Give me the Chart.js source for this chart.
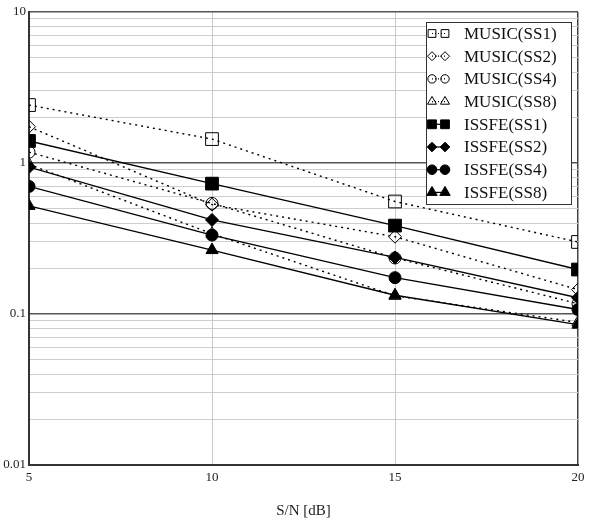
<!DOCTYPE html>
<html>
<head>
<meta charset="utf-8">
<script src="https://cdn.jsdelivr.net/npm/chart.js@4/dist/chart.umd.min.js"></script>
<style>
  html, body { margin: 0; padding: 0; background: #fff; }
  #wrap { width: 590px; height: 521px; position: relative; }
</style>
</head>
<body>
<div id="wrap"><canvas id="c" width="590" height="521"></canvas></div>
<script>
// ---- data ----
const snr = [5, 10, 15, 20];
const musicSS1 = [2.42, 1.44, 0.556, 0.30];
const musicSS2 = [1.74, 0.53, 0.325, 0.145];
const musicSS4 = [1.18, 0.54, 0.235, 0.117];
const musicSS8 = [0.98, 0.34, 0.132, 0.088];
const issfeSS1 = [1.40, 0.73, 0.385, 0.197];
const issfeSS2 = [0.94, 0.42, 0.237, 0.128];
const issfeSS4 = [0.70, 0.333, 0.174, 0.107];
const issfeSS8 = [0.52, 0.265, 0.133, 0.085];
const seriesLabels = ['MUSIC(SS1)', 'MUSIC(SS2)', 'MUSIC(SS4)', 'MUSIC(SS8)',
                      'ISSFE(SS1)', 'ISSFE(SS2)', 'ISSFE(SS4)', 'ISSFE(SS8)'];
const xTickValues = [5, 10, 15, 20];
const yDecades = [0.01, 0.1, 1, 10];
const yTickLabels = ['0.01', '0.1', '1', '10'];
const xTitle = 'S/N [dB]';

const SERIF = '"Liberation Serif", "Times New Roman", serif';

function pts(arr) { return snr.map((x, i) => ({ x: x, y: arr[i] })); }

function ds(label, arr, style, radius, legendRadius, open) {
  return {
    label: label,
    data: pts(arr),
    borderColor: '#000',
    borderWidth: 1.4,
    borderDash: open ? [2, 4] : [],
    pointStyle: style,
    pointRadius: radius,
    pointHoverRadius: radius,
    pointBackgroundColor: open ? 'rgba(0,0,0,0)' : '#000',
    pointBorderColor: '#000',
    pointBorderWidth: 1,
    legendRadius: legendRadius,
    clip: 0,
    tension: 0,
    fill: false
  };
}

const datasets = [
  ds(seriesLabels[0], musicSS1, 'rect', 9, 5.5, true),
  ds(seriesLabels[1], musicSS2, 'rectRot', 6.5, 4.5, true),
  ds(seriesLabels[2], musicSS4, 'circle', 6, 4.2, true),
  ds(seriesLabels[3], musicSS8, 'triangle', 7, 5.2, true),
  ds(seriesLabels[4], issfeSS1, 'rect', 9, 6.2, false),
  ds(seriesLabels[5], issfeSS2, 'rectRot', 6.5, 4.8, false),
  ds(seriesLabels[6], issfeSS4, 'circle', 6, 4.8, false),
  ds(seriesLabels[7], issfeSS8, 'triangle', 7, 6, false)
];

function isDecade(v) {
  const l = Math.log10(v);
  return Math.abs(l - Math.round(l)) < 1e-6;
}

const boxLegend = {
  id: 'boxLegend',
  afterDraw(chart) {
    const ctx = chart.ctx;
    const x0 = 426, y0 = 22, x1 = 571, y1 = 204;
    ctx.save();
    ctx.fillStyle = '#fff';
    ctx.fillRect(x0, y0, x1 - x0, y1 - y0);
    ctx.strokeStyle = '#333';
    ctx.lineWidth = 1;
    ctx.strokeRect(x0 + 0.5, y0 + 0.5, x1 - x0, y1 - y0);
    chart.data.datasets.forEach((d, i) => {
      const y = 33.5 + i * 22.7;
      const ax = 432, bx = 445;
      ctx.save();
      ctx.strokeStyle = '#000';
      ctx.lineWidth = 1.2;
      ctx.setLineDash(d.borderDash.length ? [1, 2] : []);
      ctx.beginPath(); ctx.moveTo(ax, y); ctx.lineTo(bx, y); ctx.stroke();
      ctx.restore();
      ctx.save();
      ctx.setLineDash([]);
      ctx.fillStyle = d.pointBackgroundColor;
      ctx.strokeStyle = '#000';
      ctx.lineWidth = 1;
      const o = { pointStyle: d.pointStyle, radius: d.legendRadius, rotation: 0, borderWidth: 1 };
      Chart.helpers.drawPoint(ctx, o, ax, y);
      Chart.helpers.drawPoint(ctx, o, bx, y);
      ctx.restore();
      ctx.fillStyle = '#111';
      ctx.font = '17px ' + SERIF;
      ctx.textBaseline = 'middle';
      ctx.textAlign = 'left';
      ctx.fillText(d.label, 464, y + 1);
    });
    ctx.restore();
  }
};

new Chart(document.getElementById('c'), {
  type: 'line',
  data: { datasets: datasets },
  plugins: [boxLegend],
  options: {
    responsive: false,
    animation: false,
    devicePixelRatio: 1,
    layout: { padding: { top: 12, right: 12, left: 0, bottom: 0 } },
    plugins: { legend: { display: false }, tooltip: { enabled: false } },
    scales: {
      x: {
        type: 'linear',
        min: 5, max: 20,
        afterBuildTicks(scale) { scale.ticks = xTickValues.map(v => ({ value: v })); },
        afterFit(scale) { scale.height = 56; },
        ticks: {
          padding: 5,
          maxRotation: 0,
          autoSkip: false,
          color: '#222',
          font: { family: SERIF, size: 13 },
          callback: (v) => String(v)
        },
        grid: {
          drawTicks: false,
          color: (c) => (c.tick && c.tick.value === 20) ? '#444' : '#c8c8c8',
          lineWidth: (c) => (c.tick && c.tick.value === 20) ? 1.5 : 1
        },
        border: { display: true, color: '#333', width: 2 },
        title: {
          display: true,
          text: xTitle,
          color: '#222',
          font: { family: SERIF, size: 15 },
          padding: { top: 0, bottom: 1 }
        }
      },
      y: {
        type: 'logarithmic',
        min: 0.01, max: 10,
        afterBuildTicks(scale) {
          const t = [];
          for (let e = -2; e <= 0; e++) {
            for (let m = 1; m <= 9; m++) t.push({ value: m * Math.pow(10, e) });
          }
          t.push({ value: 10 });
          scale.ticks = t;
        },
        afterFit(scale) { scale.width = 29; },
        ticks: {
          padding: 3,
          autoSkip: false,
          color: '#222',
          font: { family: SERIF, size: 13 },
          callback: function (v) {
            for (let i = 0; i < yDecades.length; i++) {
              if (Math.abs(v - yDecades[i]) < yDecades[i] * 1e-6) return yTickLabels[i];
            }
            return '';
          }
        },
        grid: {
          drawTicks: false,
          color: (c) => (c.tick && isDecade(c.tick.value)) ? '#555' : '#cdcdcd',
          lineWidth: (c) => (c.tick && isDecade(c.tick.value)) ? 1.5 : 1
        },
        border: { display: true, color: '#333', width: 2 }
      }
    }
  }
});
</script>
</body>
</html>
